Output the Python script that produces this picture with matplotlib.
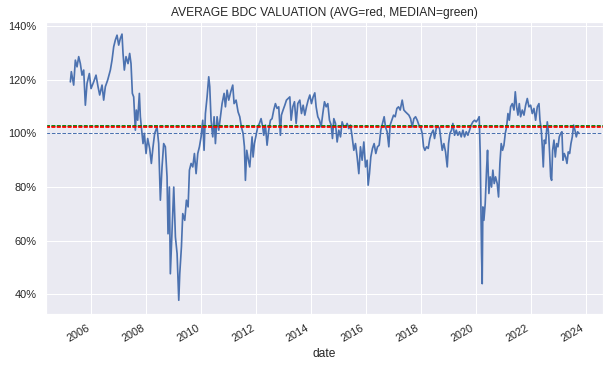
import numpy as np
import pandas as pd
import matplotlib
matplotlib.use("Agg")
import matplotlib.pyplot as plt
import matplotlib.dates as mdates
from matplotlib.ticker import PercentFormatter
import seaborn as sns

# average BDC price / book (decimal year, percent)
years_2005_2008 = [2005.235, 2005.271, 2005.356, 2005.417, 2005.478, 2005.539, 2005.599, 2005.660,
                   2005.721, 2005.781, 2005.842, 2005.927, 2005.988, 2006.085, 2006.170, 2006.243,
                   2006.304, 2006.389, 2006.449, 2006.510, 2006.595, 2006.692, 2006.753, 2006.814,
                   2006.874, 2006.935, 2006.996, 2007.057, 2007.117, 2007.154, 2007.202, 2007.263,
                   2007.336, 2007.396, 2007.445, 2007.494, 2007.542, 2007.603, 2007.639, 2007.688,
                   2007.749, 2007.785, 2007.821, 2007.882, 2007.931, 2007.992, 2008.052, 2008.125,
                   2008.186, 2008.247, 2008.307]
vals_2005_2008 = [119.2, 123.0, 118.0, 127.3, 124.8, 128.6, 126.0, 121.7, 123.6, 110.5, 118.6, 122.3,
                  116.7, 119.2, 121.7, 117.4, 114.3, 118.0, 112.4, 117.4, 119.9, 123.6, 127.3, 132.3,
                  134.8, 136.6, 132.9, 135.4, 137.0, 129.8, 123.6, 128.6, 126.0, 129.8, 126.0, 114.9,
                  113.6, 101.2, 108.7, 104.9, 114.9, 106.2, 102.4, 96.2, 100.0, 92.5, 98.1, 94.4,
                  88.8, 95.0, 100.0]

years_2008_2011 = [2008.392, 2008.453, 2008.514, 2008.575, 2008.635, 2008.696, 2008.757, 2008.793,
                   2008.842, 2008.878, 2008.939, 2009.000, 2009.060, 2009.121, 2009.182, 2009.218,
                   2009.279, 2009.327, 2009.400, 2009.461, 2009.522, 2009.570, 2009.631, 2009.692,
                   2009.752, 2009.813, 2009.874, 2009.934, 2009.995, 2010.056, 2010.104, 2010.153,
                   2010.214, 2010.274, 2010.311, 2010.359, 2010.420, 2010.469, 2010.517, 2010.578,
                   2010.639, 2010.699, 2010.760, 2010.833, 2010.882, 2010.942, 2011.003, 2011.076,
                   2011.149, 2011.197, 2011.270, 2011.343, 2011.404, 2011.464, 2011.525, 2011.574,
                   2011.610, 2011.659, 2011.719, 2011.768]
vals_2008_2011 = [102.4, 96.2, 75.1, 87.5, 96.2, 95.0, 83.8, 62.6, 80.0, 47.7, 63.9, 80.0,
                  61.4, 55.2, 37.8, 47.7, 57.7, 70.1, 67.6, 75.1, 72.6, 86.3, 88.8, 87.5,
                  92.5, 85.0, 92.5, 95.0, 98.7, 104.9, 93.7, 107.4, 113.6, 121.1, 117.4, 104.9,
                  98.7, 106.2, 96.2, 106.2, 101.2, 106.2, 111.1, 114.9, 109.9, 116.1, 112.4, 115.5,
                  118.0, 111.1, 112.4, 108.0, 106.2, 102.4, 100.0, 95.0, 82.5, 93.7, 90.0, 87.5]

years_2011_2015 = [2011.853, 2011.889, 2011.938, 2011.998, 2012.059, 2012.120, 2012.181, 2012.241,
                   2012.278, 2012.338, 2012.399, 2012.460, 2012.521, 2012.581, 2012.642, 2012.703,
                   2012.763, 2012.824, 2012.885, 2012.921, 2012.982, 2013.043, 2013.103, 2013.164,
                   2013.225, 2013.273, 2013.334, 2013.395, 2013.456, 2013.516, 2013.589, 2013.650,
                   2013.711, 2013.771, 2013.832, 2013.893, 2013.954, 2014.014, 2014.075, 2014.136,
                   2014.184, 2014.245, 2014.306, 2014.366, 2014.427, 2014.488, 2014.549, 2014.609,
                   2014.670, 2014.731, 2014.779, 2014.828, 2014.889, 2014.949, 2015.010, 2015.071,
                   2015.131, 2015.192]
vals_2011_2015 = [98.7, 91.2, 96.2, 99.3, 102.4, 103.7, 105.5, 102.4, 99.3, 103.1, 95.6, 101.2,
                  104.9, 105.5, 108.7, 111.1, 109.3, 109.9, 99.3, 106.8, 108.7, 110.5, 112.4, 113.0,
                  113.6, 104.9, 109.9, 111.8, 103.7, 111.1, 112.4, 107.4, 110.5, 106.8, 109.9, 112.4,
                  114.3, 111.1, 113.6, 115.1, 109.9, 106.2, 104.9, 102.4, 107.4, 111.8, 109.9, 111.1,
                  104.9, 103.1, 98.1, 105.5, 103.7, 96.8, 101.2, 98.7, 104.3, 102.4]

years_2015_2018 = [2015.253, 2015.314, 2015.374, 2015.435, 2015.496, 2015.557, 2015.617, 2015.678,
                   2015.739, 2015.799, 2015.860, 2015.921, 2015.982, 2016.042, 2016.079, 2016.127,
                   2016.176, 2016.237, 2016.297, 2016.358, 2016.419, 2016.480, 2016.540, 2016.601,
                   2016.662, 2016.710, 2016.771, 2016.832, 2016.880, 2016.941, 2017.002, 2017.062,
                   2017.123, 2017.184, 2017.244, 2017.317, 2017.378, 2017.439, 2017.500, 2017.560,
                   2017.621, 2017.682, 2017.742, 2017.803, 2017.864, 2017.925, 2017.985, 2018.046,
                   2018.095, 2018.143, 2018.204, 2018.265, 2018.325, 2018.386, 2018.447, 2018.495,
                   2018.556, 2018.617, 2018.677]
vals_2015_2018 = [102.4, 103.7, 101.8, 103.1, 98.7, 93.7, 96.2, 91.2, 85.0, 95.0, 90.0, 96.8,
                  87.5, 90.0, 80.7, 85.0, 91.2, 94.4, 96.2, 92.5, 95.0, 95.6, 101.2, 103.7,
                  106.2, 102.4, 100.6, 95.0, 103.1, 104.9, 106.8, 106.2, 109.3, 109.9, 108.7, 112.4,
                  108.7, 108.0, 107.4, 106.8, 105.5, 102.4, 105.5, 106.2, 104.9, 103.1, 102.4, 100.0,
                  95.0, 93.7, 95.0, 94.4, 98.1, 100.0, 101.2, 98.1, 101.8, 102.7, 101.8]

years_2018_2021 = [2018.714, 2018.775, 2018.835, 2018.896, 2018.957, 2019.005, 2019.054, 2019.115,
                   2019.163, 2019.224, 2019.285, 2019.345, 2019.406, 2019.467, 2019.528, 2019.588,
                   2019.649, 2019.710, 2019.770, 2019.831, 2019.892, 2019.953, 2020.013, 2020.074,
                   2020.123, 2020.159, 2020.183, 2020.208, 2020.232, 2020.256, 2020.293, 2020.341,
                   2020.390, 2020.426, 2020.475, 2020.523, 2020.572, 2020.620, 2020.669, 2020.718,
                   2020.778, 2020.827, 2020.876, 2020.924, 2020.973, 2021.021, 2021.070, 2021.118,
                   2021.167, 2021.216, 2021.264, 2021.325, 2021.386, 2021.434, 2021.483, 2021.531,
                   2021.580, 2021.628, 2021.689, 2021.750, 2021.811, 2021.871, 2021.932]
vals_2018_2021 = [98.7, 93.7, 96.2, 93.1, 87.5, 96.2, 100.0, 101.2, 103.7, 99.3, 101.2, 99.3,
                  100.6, 98.7, 101.2, 98.7, 100.6, 99.3, 101.2, 103.1, 104.3, 104.9, 104.3, 105.2,
                  106.2, 92.5, 73.8, 55.2, 44.0, 72.6, 67.6, 73.8, 86.3, 93.7, 77.6, 83.8,
                  80.0, 86.3, 81.3, 83.8, 81.3, 76.3, 88.8, 96.2, 93.7, 95.6, 100.0, 102.4,
                  107.4, 104.9, 109.9, 111.1, 108.7, 115.5, 109.9, 106.8, 111.1, 106.2, 108.7, 106.8,
                  110.5, 113.0, 109.9]

years_2022_2023 = [2021.993, 2022.054, 2022.114, 2022.175, 2022.236, 2022.297, 2022.333, 2022.382,
                   2022.418, 2022.454, 2022.491, 2022.539, 2022.600, 2022.649, 2022.685, 2022.722,
                   2022.758, 2022.794, 2022.843, 2022.892, 2022.940, 2022.989, 2023.037, 2023.086,
                   2023.134, 2023.171, 2023.219, 2023.268, 2023.317, 2023.365, 2023.414, 2023.462,
                   2023.511, 2023.559, 2023.608, 2023.657, 2023.705, 2023.754]
vals_2022_2023 = [110.5, 107.4, 109.3, 104.9, 109.9, 111.1, 104.9, 101.2, 95.0, 87.5, 97.5, 96.2,
                  104.3, 100.0, 92.5, 83.8, 82.5, 93.7, 97.5, 91.2, 96.2, 95.0, 98.7, 100.0,
                  100.6, 90.0, 92.5, 91.2, 88.8, 93.1, 92.5, 96.2, 98.7, 103.1, 101.2, 98.7,
                  100.6, 100.0]

avg_val = 1.023
median_val = 1.027

years = np.array(years_2005_2008 + years_2008_2011 + years_2011_2015
                 + years_2015_2018 + years_2018_2021 + years_2022_2023)
vals = np.array(vals_2005_2008 + vals_2008_2011 + vals_2011_2015
                + vals_2015_2018 + vals_2018_2021 + vals_2022_2023) / 100.0


def to_date(y):
    yr = int(y)
    return pd.Timestamp(yr, 1, 1) + pd.Timedelta(days=(y - yr) * 365.25)


df = pd.DataFrame({"date": [to_date(y) for y in years], "valuation": vals}).set_index("date")

sns.set_theme(style="darkgrid")
plt.rcParams["font.family"] = ["Liberation Sans", "DejaVu Sans"]

fig = plt.figure(figsize=(616 / 72, 366 / 72), dpi=72)
ax = fig.add_axes([46 / 616, 52.3 / 366, 557 / 616, 291.4 / 366])

ax.plot(df.index, df["valuation"], color="#4c72b0", lw=1.7)
ax.axhline(1.0, ls="--", lw=1, color="#4c72b0")
ax.axhline(median_val, lw=1.8, color="green", dashes=(2.2, 0.8))
ax.axhline(avg_val, lw=1.8, color="red", dashes=(2.2, 0.8))

ax.set_xlim(pd.Timestamp("2004-05-08"), pd.Timestamp("2024-08-18"))
ax.set_ylim(0.328, 1.414)
ax.set_yticks([0.4, 0.6, 0.8, 1.0, 1.2, 1.4])
ax.yaxis.set_major_formatter(PercentFormatter(1.0, decimals=0))
ax.xaxis.set_major_locator(mdates.YearLocator(2))
ax.xaxis.set_major_formatter(mdates.DateFormatter("%Y"))
for lbl in ax.get_xticklabels():
    lbl.set_rotation(30)
    lbl.set_ha("right")
ax.tick_params(labelsize=11)

ax.set_xlabel("date", fontsize=12)
ax.set_title("AVERAGE BDC VALUATION (AVG=red, MEDIAN=green)", fontsize=12)

fig.savefig("out.png", dpi=72)
